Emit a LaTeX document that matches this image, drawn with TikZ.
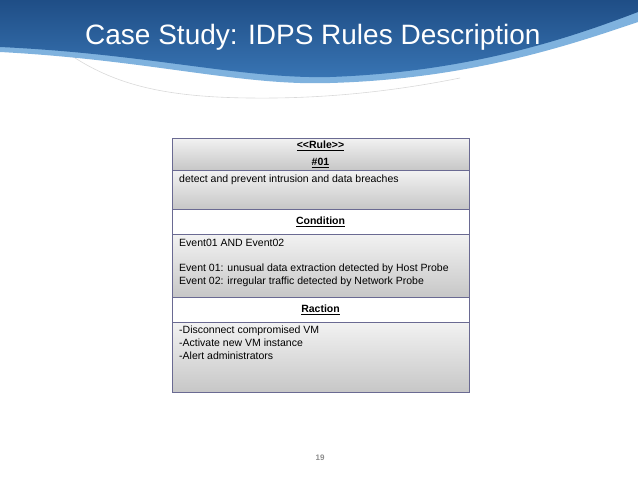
\documentclass[tikz,border=0pt]{standalone}
\usepackage{fontspec}
\setmainfont{Liberation Sans}
\tikzset{
  cellgray/.style={top color=black!5, bottom color=black!22, draw=bordc, line width=0.9pt},
  cellwhite/.style={fill=white, draw=bordc, line width=0.9pt},
  hdr/.style={font=\fontsize{10.5}{12}\selectfont\bfseries, anchor=center, inner sep=0pt},
  body/.style={font=\fontsize{10.5}{13}\selectfont, anchor=north west, align=left, inner sep=0pt},
}
\definecolor{bordc}{HTML}{6A6A92}
\definecolor{bannerdark}{HTML}{1F4E86}
\definecolor{bannerlight}{HTML}{3F7FC0}
\definecolor{rim}{HTML}{7FB2DE}
\begin{document}
\begin{tikzpicture}[x=1pt,y=-1pt]
\useasboundingbox (0,0) rectangle (638,479);
% banner
\draw[black!15, line width=0.6pt] (50,40) .. controls (100,80) and (150,97) .. (250,98) .. controls (330,99) and (400,90) .. (460,78);
\fill[rim] (0,0) -- (0,52) .. controls (150,60) and (240,86) .. (330,83) .. controls (470,79) and (570,45) .. (638,22) -- (638,0) -- cycle;
\shade[top color=bannerdark, bottom color=bannerlight!80!bannerdark] (0,0) -- (0,47) .. controls (150,54) and (240,79) .. (330,77) .. controls (470,72) and (570,38) .. (638,12) -- (638,0) -- cycle;
\node[text=white, font=\fontsize{28}{32}\selectfont, anchor=base west, inner sep=0] (title) at (85,45) {Case Study: IDPS Rules Description};
% table
\draw[cellgray] (172,138) rectangle (469,170);
\draw[cellgray] (172,170) rectangle (469,209);
\draw[cellwhite] (172,209) rectangle (469,234);
\draw[cellgray] (172,234) rectangle (469,297);
\draw[cellwhite] (172,297) rectangle (469,322);
\draw[cellgray] (172,322) rectangle (469,392);
\node[hdr] (rule) at (320.5,146) {\underline{<{}<Rule>{}>}};
\node[hdr] (num) at (320.5,163) {\underline{\#01}};
\node[body] (desc) at (179,175) {detect and prevent intrusion and data breaches};
\node[hdr] (cond) at (320.5,221.5) {\underline{Condition}};
\node[body] (condb) at (179,239) {Event01 AND Event02\\[12pt]Event 01: unusual data extraction detected by Host Probe\\Event 02: irregular traffic detected by Network Probe};
\node[hdr] (ract) at (320.5,309.5) {\underline{Raction}};
\node[body] (ractb) at (179,326) {-Disconnect compromised VM\\-Activate new VM instance\\-Alert administrators};
\node[text=black!45, font=\fontsize{8}{9}\selectfont\bfseries] (page) at (320,458) {19};
\end{tikzpicture}
\end{document}
